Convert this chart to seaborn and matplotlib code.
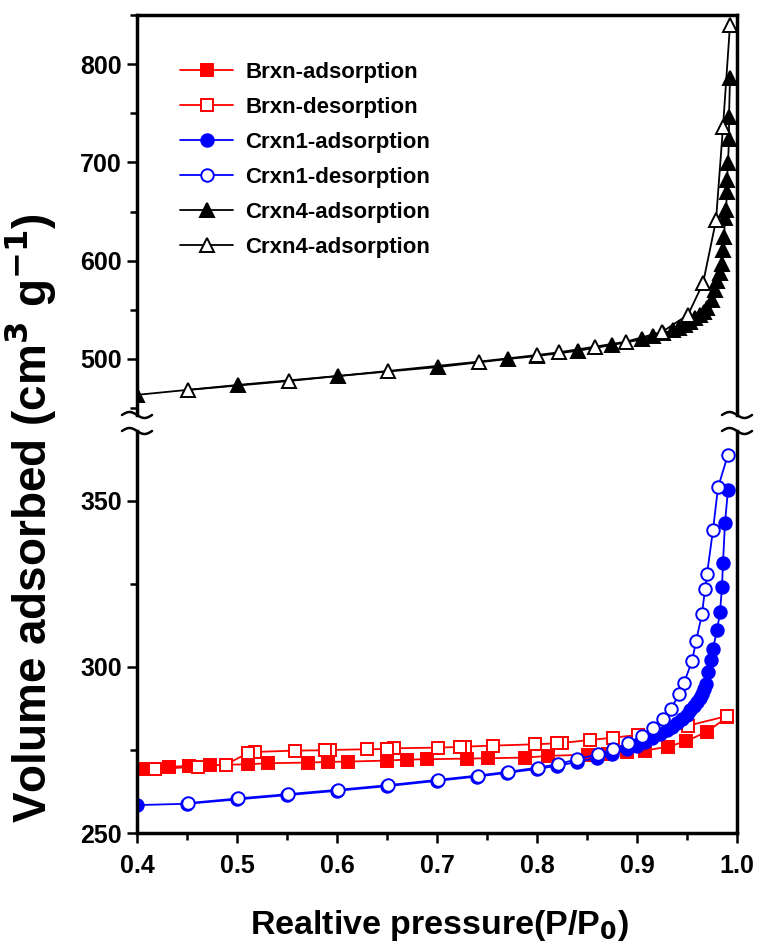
import numpy as np
import pandas as pd
import matplotlib
matplotlib.use('Agg')
import matplotlib.pyplot as plt
import seaborn as sns
from matplotlib.lines import Line2D
from matplotlib.ticker import MultipleLocator

sns.set_style("ticks")
plt.rcParams['font.family'] = ['Liberation Sans', 'DejaVu Sans']
plt.rcParams['font.weight'] = 'bold'
plt.rcParams['mathtext.default'] = 'bf'
for k in ('text.color', 'axes.labelcolor', 'xtick.color', 'ytick.color', 'axes.edgecolor'):
    plt.rcParams[k] = 'black'

# ---- data read from the isotherms ----
brxn_ads_x = [0.405, 0.432, 0.452, 0.473, 0.511, 0.531, 0.571, 0.591, 0.611, 0.650, 0.670, 0.690,
              0.730, 0.751, 0.788, 0.811, 0.851, 0.871, 0.890, 0.908, 0.931, 0.949, 0.970, 0.990]
brxn_ads_y = [269.4, 269.9, 270.2, 270.4, 270.7, 271.0, 271.2, 271.4, 271.5, 271.8, 272.1, 272.2,
              272.4, 272.5, 272.7, 273.2, 273.6, 273.9, 274.3, 274.8, 276.0, 277.6, 280.5, 284.8]

brxn_des_x = [0.990, 0.951, 0.901, 0.876, 0.853, 0.825, 0.820, 0.798, 0.756, 0.728, 0.723, 0.701,
              0.657, 0.650, 0.630, 0.593, 0.588, 0.558, 0.518, 0.511, 0.489, 0.461, 0.418]
brxn_des_y = [285.2, 282.3, 279.5, 278.7, 278.0, 277.1, 277.0, 276.7, 276.3, 276.0, 275.9, 275.7,
              275.5, 275.3, 275.2, 275.0, 274.9, 274.8, 274.4, 274.1, 270.6, 270.0, 269.2]

crxn1_ads_x = [0.400, 0.450, 0.500, 0.550, 0.600, 0.650, 0.700, 0.740, 0.770, 0.800, 0.820, 0.840,
               0.860, 0.875, 0.890, 0.900, 0.908, 0.915, 0.923, 0.930, 0.935, 0.940, 0.945, 0.950,
               0.953, 0.957, 0.960, 0.963, 0.965, 0.967, 0.969, 0.971, 0.974, 0.976, 0.980, 0.983,
               0.985, 0.986, 0.988, 0.991]
crxn1_ads_y = [258.4, 258.8, 260.1, 261.4, 262.7, 264.1, 265.7, 267.0, 268.1, 269.3, 270.2, 271.4,
               272.6, 273.8, 275.2, 276.3, 277.4, 278.6, 279.8, 281.0, 281.8, 283.0, 284.3, 285.6,
               286.9, 288.1, 289.3, 290.6, 291.8, 293.3, 294.9, 298.4, 302.0, 305.5, 311.0, 316.4,
               324.1, 331.4, 343.4, 353.3]

crxn1_des_x = [0.991, 0.981, 0.976, 0.970, 0.968, 0.965, 0.959, 0.955, 0.947, 0.942, 0.934, 0.926,
               0.916, 0.905, 0.891, 0.876, 0.861, 0.840, 0.821, 0.801, 0.771, 0.741, 0.701, 0.651,
               0.601, 0.551, 0.501, 0.451]
crxn1_des_y = [363.9, 354.0, 341.2, 327.9, 323.4, 315.9, 307.7, 301.7, 295.2, 291.7, 287.4, 284.3,
               281.6, 279.2, 277.1, 275.2, 273.7, 272.2, 270.7, 269.7, 268.4, 267.3, 266.0, 264.4,
               263.0, 261.7, 260.4, 259.0]

crxn4_ads_x = [0.400, 0.501, 0.601, 0.701, 0.771, 0.800, 0.841, 0.875, 0.905, 0.916, 0.926, 0.936,
               0.942, 0.948, 0.953, 0.958, 0.963, 0.967, 0.970, 0.975, 0.978, 0.980, 0.983, 0.985,
               0.986, 0.987, 0.988, 0.989, 0.990, 0.990, 0.991, 0.992, 0.992, 0.993]
crxn4_ads_y = [463.5, 473.6, 482.7, 491.8, 500.0, 503.0, 508.4, 514.2, 520.0, 523.5, 526.0, 529.5,
               532.0, 535.0, 538.0, 541.5, 544.5, 548.0, 552.0, 560.0, 570.0, 579.0, 587.0, 597.0,
               611.0, 624.0, 643.0, 652.0, 670.0, 682.0, 699.0, 724.0, 746.0, 786.0]

crxn4_des_x = [0.993, 0.986, 0.979, 0.966, 0.951, 0.925, 0.889, 0.858, 0.822, 0.800, 0.742, 0.651,
               0.552, 0.451]
crxn4_des_y = [840.0, 736.0, 641.0, 577.0, 545.0, 527.5, 517.6, 512.5, 506.8, 504.0, 497.3, 487.8,
               477.6, 468.5]

labels = ['Brxn-adsorption', 'Brxn-desorption', 'Crxn1-adsorption',
          'Crxn1-desorption', 'Crxn4-adsorption', 'Crxn4-adsorption']

W, H = 757, 947
fig = plt.figure(figsize=(W / 100, H / 100), dpi=100)

L, R = 137, 737
top_px, brk_top, brk_bot, bot_px = 15, 415, 431, 833
ax_top = fig.add_axes([L / W, 1 - brk_top / H, (R - L) / W, (brk_top - top_px) / H])
ax_bot = fig.add_axes([L / W, 1 - bot_px / H, (R - L) / W, (bot_px - brk_bot) / H])

series = [
    (ax_bot, brxn_ads_x, brxn_ads_y, 'red', 's', 'red', 8.2),
    (ax_bot, brxn_des_x, brxn_des_y, 'red', 's', 'white', 8.2),
    (ax_bot, crxn1_ads_x, crxn1_ads_y, 'blue', 'o', 'blue', 9),
    (ax_bot, crxn1_des_x, crxn1_des_y, 'blue', 'o', 'white', 9),
    (ax_top, crxn4_ads_x, crxn4_ads_y, 'black', '^', 'black', 9.5),
    (ax_top, crxn4_des_x, crxn4_des_y, 'black', '^', 'white', 9.5),
]

handles = []
for (ax, xs, ys, col, mk, fc, ms), lab in zip(series, labels):
    df = pd.DataFrame({'x': xs, 'y': ys})
    sns.lineplot(data=df, x='x', y='y', ax=ax, sort=False, estimator=None, errorbar=None,
                 color=col, marker=mk, markersize=ms, markerfacecolor=fc,
                 markeredgecolor=col, markeredgewidth=1.4, linewidth=1.3)
    handles.append(Line2D([], [], color=col, marker=mk, markersize=ms, markerfacecolor=fc,
                          markeredgecolor=col, markeredgewidth=1.4, linewidth=1.3, label=lab))

for ax in (ax_top, ax_bot):
    ax.set_xlim(0.4, 1.0)
    ax.set_xlabel('')
    ax.set_ylabel('')
    for s in ax.spines.values():
        s.set_linewidth(2.5)
        s.set_color('black')
    ax.tick_params(which='major', direction='out', length=7, width=1.8, labelsize=18, pad=4,
                   right=False, top=False, colors='black')
    ax.tick_params(which='minor', direction='out', length=5, width=1.8, right=False, top=False,
                   colors='black')

ax_top.set_ylim(443, 850)
ax_top.set_yticks([500, 600, 700, 800])
ax_top.yaxis.set_minor_locator(MultipleLocator(50))
ax_top.spines['bottom'].set_visible(False)
ax_top.tick_params(axis='x', which='both', bottom=False, labelbottom=False)

ax_bot.set_ylim(250, 371)
ax_bot.set_yticks([250, 300, 350])
ax_bot.yaxis.set_minor_locator(MultipleLocator(25))
ax_bot.spines['top'].set_visible(False)
ax_bot.set_xticks([0.4, 0.5, 0.6, 0.7, 0.8, 0.9, 1.0])
ax_bot.set_xticklabels(['0.4', '0.5', '0.6', '0.7', '0.8', '0.9', '1.0'])
ax_bot.xaxis.set_minor_locator(MultipleLocator(0.05))
ax_bot.tick_params(axis='x', which='major', pad=8)
for t in ax_top.get_yticklabels() + ax_bot.get_yticklabels() + ax_bot.get_xticklabels():
    t.set_fontweight('bold')

# break marks on both spines
t = np.linspace(-1, 1, 40)
for xc in (L, R):
    for yc in (brk_top, brk_bot):
        xs = (xc + 15 * t) / W
        ys = 1 - (yc + 3 * np.sin(np.pi * t)) / H
        fig.add_artist(Line2D(xs, ys, color='black', lw=1.8, transform=fig.transFigure))

leg = ax_top.legend(handles=handles, loc='upper left', bbox_to_anchor=(171 / W, 1 - 53 / H),
                    bbox_transform=fig.transFigure, frameon=False, fontsize=16,
                    handlelength=2.4, handletextpad=0.55, labelspacing=0.63, borderaxespad=0)
for txt in leg.get_texts():
    txt.set_fontweight('bold')

fig.text(30 / W, 1 - 518 / H, 'Volume adsorbed (cm$^3$ g$^{-1}$)', rotation=90,
         ha='center', va='center', fontsize=33, fontweight='bold')
fig.text(440 / W, 1 - 925 / H, 'Realtive pressure(P/P$_0$)', ha='center', va='center',
         fontsize=24.5, fontweight='bold')

fig.savefig('out.png', dpi=100)
